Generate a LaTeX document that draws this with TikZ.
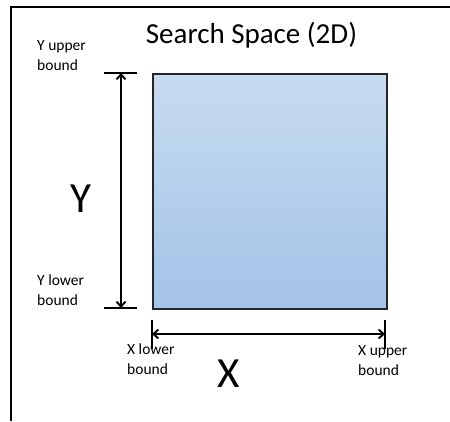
\documentclass[tikz,border=0pt]{standalone}
\usepackage{fontspec}
\setmainfont{Carlito}
\usetikzlibrary{arrows.meta}

\definecolor{spacetop}{RGB}{199,219,239}
\definecolor{spacebot}{RGB}{163,195,232}

\tikzset{
    bound/.style={anchor=base west, inner sep=0pt, align=left, font=\fontsize{15.5}{20}\selectfont},
    axis/.style={anchor=base, inner sep=0pt, font=\fontsize{43}{43}\selectfont},
    dim/.style={<->, >={Straight Barb[length=5pt,width=9pt]}, line width=1.9pt},
    tick/.style={line width=2.2pt}
}

\begin{document}
\begin{tikzpicture}[x=1pt, y=-1pt]
    \useasboundingbox (0,0) rectangle (450,421);
    % frame
    \draw [line width=2.2pt] (450,7) -- (11,7) -- (11,421);

    \node [anchor=base, inner sep=0pt, font=\fontsize{29}{29}\selectfont] (title) at (251.5,43) {Search Space (2D)};

    \node [draw=black!85, line width=1.6pt, top color=spacetop, bottom color=spacebot,
           minimum width=234pt, minimum height=235pt, anchor=north west, inner sep=0pt] (space) at (152,73) {};

    % Y dimension
    \coordinate (ytop) at (121,73);
    \coordinate (ybot) at (121,308);
    \draw [tick] (104,73) -- (137,73);
    \draw [tick] (104,308) -- (137,308);
    \draw [dim] (ytop) -- (ybot);
    \node [axis] (ylabel) at (80.5,212) {Y};
    \node [bound] (yup) at (37,70) {Y upper\\bound};
    \node [bound] (ylow) at (37,305) {Y lower\\bound};

    % X dimension
    \coordinate (xleft) at (152,334);
    \coordinate (xright) at (385,334);
    \draw [tick] (152,320) -- (152,349);
    \draw [tick] (385,320) -- (385,349);
    \draw [dim] (xleft) -- (xright);
    \node [axis] (xlabel) at (229,387) {X};
    \node [bound] (xlow) at (127,374) {X lower\\bound};
    \node [bound] (xup) at (358,375) {X upper\\bound};
\end{tikzpicture}
\end{document}
